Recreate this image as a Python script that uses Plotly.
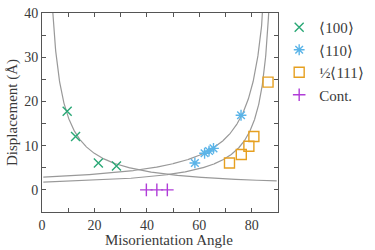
import numpy as np
import plotly.graph_objects as go

# Data
x100 = [9.6, 12.8, 21.5, 28.4]
y100 = [17.8, 12.1, 6.1, 5.4]
x110 = [58.3, 62.0, 63.7, 65.4, 75.9]
y110 = [6.1, 8.3, 8.8, 9.4, 16.9]
x111 = [71.5, 76.0, 78.9, 80.8, 86.2]
y111 = [6.1, 8.0, 9.9, 12.1, 24.4]
xcont = [39.8, 43.8, 47.8]
ycont = [0.0, 0.0, 0.0]
xticks = [0, 20, 40, 60, 80]
yticks = [0, 10, 20, 30, 40]

# Theoretical dislocation spacing curves (Burgers vector magnitudes, Angstrom)
a0 = 2.87
b100 = a0
b110 = a0 * np.sqrt(2)
b111 = a0 * np.sqrt(3) / 2

theta = np.linspace(0.5, 89.5, 900)
th = np.radians(theta)
c100 = b100 / (2 * np.sin(th / 2))
c110 = b110 / (2 * np.sin((np.pi / 2 - th) / 2))
c111 = b111 / (2 * np.sin((np.pi / 2 - th) / 2))

font = "Liberation Serif"
txt = "#3a3a3a"
fig = go.Figure()
for cy in (c100, c110, c111):
    fig.add_trace(go.Scatter(x=theta, y=cy, mode="lines", line=dict(color="#999999", width=1.2),
                             showlegend=False, hoverinfo="skip"))

fig.add_trace(go.Scatter(x=x100, y=y100, mode="markers", name="⟨100⟩",
                         marker=dict(symbol="x-thin-open", size=9, line=dict(color="#2aa876", width=1.4), color="#2aa876")))
fig.add_trace(go.Scatter(x=x110, y=y110, mode="markers", name="⟨110⟩",
                         marker=dict(symbol="asterisk-open", size=9, line=dict(color="#5ab4e8", width=1.4), color="#5ab4e8")))
fig.add_trace(go.Scatter(x=x111, y=y111, mode="markers", name="½⟨111⟩",
                         marker=dict(symbol="square-open", size=10, line=dict(color="#e6a020", width=1.4), color="#e6a020")))
fig.add_trace(go.Scatter(x=xcont, y=ycont, mode="markers", name="Cont.",
                         marker=dict(symbol="cross-thin-open", size=9, line=dict(color="#b03cd8", width=1.4), color="#b03cd8")))

axis_common = dict(showline=True, linecolor="#555", linewidth=1, mirror="ticks", ticks="inside",
                   ticklen=4, tickcolor="#555", showgrid=False, zeroline=False,
                   tickfont=dict(family=font, size=14, color=txt))
fig.update_xaxes(range=[0, 90], tickvals=xticks,
                 minor=dict(dtick=10, tick0=0, ticks="inside", ticklen=4, tickcolor="#555"),
                 **axis_common)
fig.update_yaxes(range=[-5, 40.05], tickvals=yticks,
                 minor=dict(dtick=5, tick0=0, ticks="inside", ticklen=4, tickcolor="#555"),
                 title=dict(text="Displacement (Å)", font=dict(family=font, size=15, color=txt), standoff=2),
                 **axis_common)

fig.add_annotation(text="Misorientation Angle", xref="paper", yref="paper", x=0.54, y=-0.185,
                   xanchor="center", yanchor="bottom", showarrow=False, borderpad=0,
                   font=dict(family=font, size=15, color=txt))

fig.update_layout(width=375, height=250, margin=dict(l=42, r=69, t=6, b=38),
                  plot_bgcolor="white", paper_bgcolor="white",
                  font=dict(family=font, color=txt),
                  legend=dict(x=1.005, y=1.01, xanchor="left", yanchor="top",
                              font=dict(family=font, size=15, color=txt),
                              itemwidth=30, tracegroupgap=0, bgcolor="rgba(0,0,0,0)"))
fig.write_html("out.html")
